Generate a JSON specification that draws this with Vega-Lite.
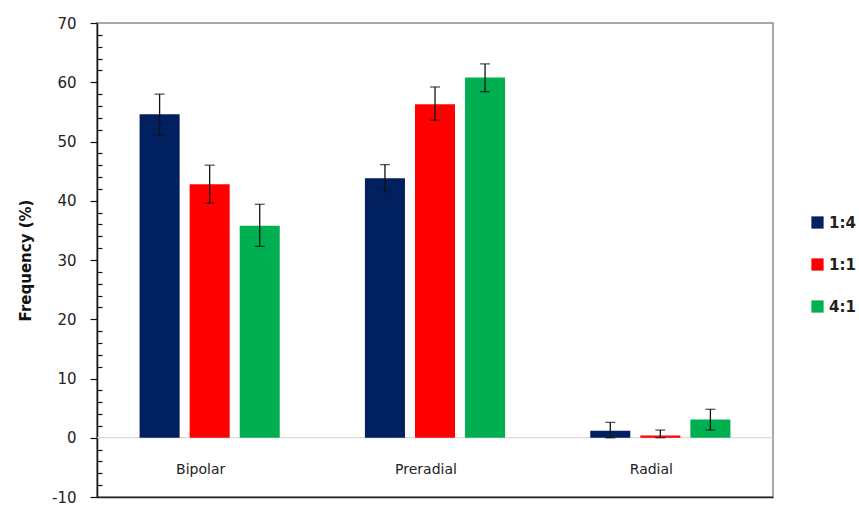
{
  "$schema": "https://vega.github.io/schema/vega-lite/v6.json",
  "autosize": "none",
  "width": 676,
  "height": 474,
  "padding": {"left": 97, "top": 23, "right": 86, "bottom": 9},
  "background": "white",
  "config": {
    "view": {"stroke": "#8a8a8a", "strokeWidth": 1.5},
    "font": "DejaVu Sans"
  },
  "data": {
    "values": [
      {"group": "Bipolar", "ratio": "1:4", "value": 54.6, "lo": 51.0, "hi": 58.0},
      {"group": "Bipolar", "ratio": "1:1", "value": 42.8, "lo": 39.6, "hi": 46.0},
      {"group": "Bipolar", "ratio": "4:1", "value": 35.8, "lo": 32.3, "hi": 39.4},
      {"group": "Preradial", "ratio": "1:4", "value": 43.8, "lo": 41.5, "hi": 46.1},
      {"group": "Preradial", "ratio": "1:1", "value": 56.3, "lo": 53.6, "hi": 59.2},
      {"group": "Preradial", "ratio": "4:1", "value": 60.8, "lo": 58.4, "hi": 63.1},
      {"group": "Radial", "ratio": "1:4", "value": 1.2, "lo": 0.0, "hi": 2.6},
      {"group": "Radial", "ratio": "1:1", "value": 0.4, "lo": 0.0, "hi": 1.3},
      {"group": "Radial", "ratio": "4:1", "value": 3.1, "lo": 1.3, "hi": 4.8}
    ]
  },
  "resolve": {"axis": {"y": "independent"}},
  "encoding": {
    "x": {
      "field": "group",
      "type": "nominal",
      "sort": ["Bipolar", "Preradial", "Radial"],
      "scale": {"paddingInner": 0.378, "paddingOuter": 0.189},
      "axis": {
        "title": null,
        "domain": true,
        "domainColor": "#222",
        "domainWidth": 1.5,
        "ticks": false,
        "labelAngle": 0,
        "labelFontSize": 14,
        "labelColor": "#222",
        "labelPadding": -35,
        "labelOffset": -9
      }
    },
    "xOffset": {
      "field": "ratio",
      "type": "nominal",
      "sort": ["1:4", "1:1", "4:1"],
      "scale": {"paddingInner": 0.2, "paddingOuter": 0}
    }
  },
  "layer": [
    {
      "mark": {"type": "rule", "color": "#d0d0d0", "strokeWidth": 1.2},
      "data": {"values": [{"zero": 0}]},
      "encoding": {
        "y": {
          "field": "zero",
          "type": "quantitative",
          "scale": {"domain": [-10, 70], "nice": false},
          "axis": {
            "orient": "left",
            "title": "Frequency (%)",
            "titleFontSize": 15,
            "titleFontWeight": "bold",
            "titleColor": "#111",
            "titlePadding": 18,
            "values": [-10, 0, 10, 20, 30, 40, 50, 60, 70],
            "labelExpr": "toString(datum.value)",
            "labelFontSize": 15,
            "labelColor": "#222",
            "labelPadding": 14,
            "grid": false,
            "domainColor": "#111",
            "domainWidth": 1.5,
            "tickColor": "#111",
            "tickWidth": 1.2,
            "tickSize": 7
          }
        },
        "x": null,
        "xOffset": null
      }
    },
    {
      "mark": {"type": "bar"},
      "encoding": {
        "y": {
          "field": "value",
          "type": "quantitative",
          "axis": {
            "orient": "left",
            "title": null,
            "offset": -5,
            "values": [-8, -6, -4, -2, 2, 4, 6, 8, 12, 14, 16, 18, 22, 24, 26, 28, 32, 34, 36, 38, 42, 44, 46, 48, 52, 54, 56, 58, 62, 64, 66, 68],
            "labels": false,
            "domain": false,
            "grid": false,
            "tickColor": "#111",
            "tickWidth": 1.2,
            "tickSize": 5
          }
        },
        "color": {
          "field": "ratio",
          "type": "nominal",
          "sort": ["1:4", "1:1", "4:1"],
          "scale": {"domain": ["1:4", "1:1", "4:1"], "range": ["#002060", "#ff0000", "#00b050"]},
          "legend": {
            "title": null,
            "orient": "none",
            "legendX": 713,
            "legendY": 192,
            "symbolType": "square",
            "symbolSize": 150,
            "symbolStrokeWidth": 0,
            "labelFontSize": 15,
            "labelFontWeight": "bold",
            "labelColor": "#222",
            "rowPadding": 26,
            "labelOffset": 4
          }
        }
      }
    },
    {
      "mark": {"type": "rule", "color": "#111", "strokeWidth": 1.3},
      "encoding": {
        "y": {"field": "lo", "type": "quantitative", "axis": null},
        "y2": {"field": "hi"}
      }
    },
    {
      "mark": {"type": "tick", "color": "#111", "size": 10, "thickness": 1.3},
      "encoding": {"y": {"field": "lo", "type": "quantitative", "axis": null}}
    },
    {
      "mark": {"type": "tick", "color": "#111", "size": 10, "thickness": 1.3},
      "encoding": {"y": {"field": "hi", "type": "quantitative", "axis": null}}
    }
  ]
}
